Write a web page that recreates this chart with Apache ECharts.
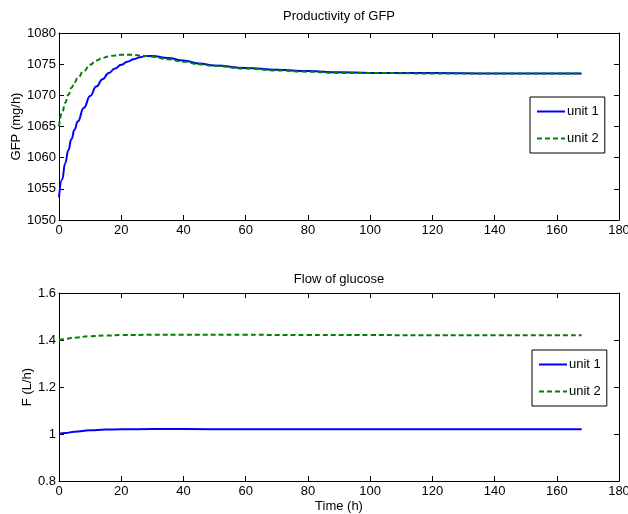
<!DOCTYPE html>
<html>
<head>
<meta charset="utf-8">
<script src="https://cdn.jsdelivr.net/npm/echarts@6/dist/echarts.min.js"></script>
<style>
  html, body { margin: 0; padding: 0; background: #fff; }
  #main { width: 628px; height: 514px; }
</style>
</head>
<body>
<div id="main"></div>
<script>
// time points (h) for the GFP plot
var timeGfp = [0, 1, 2, 3, 4, 5, 6, 8, 10, 12, 14, 16, 18, 20, 22, 24, 26, 28, 30, 35, 40, 45, 50, 60, 70, 80, 90, 100, 120, 140, 168];
var gfpUnit1 = [1053.6, 1056.5, 1059.1, 1061.2, 1063.0, 1064.5, 1065.8, 1068.0, 1069.9, 1071.4, 1072.6, 1073.6, 1074.3, 1074.9, 1075.4, 1075.8, 1076.1, 1076.3, 1076.3, 1076.0, 1075.6, 1075.1, 1074.8, 1074.4, 1074.1, 1073.9, 1073.7, 1073.6, 1073.6, 1073.5, 1073.5];
var gfpUnit2 = [1065.0, 1067.2, 1068.8, 1070.1, 1071.2, 1072.1, 1072.8, 1073.9, 1074.9, 1075.6, 1076.0, 1076.25, 1076.4, 1076.5, 1076.5, 1076.5, 1076.4, 1076.3, 1076.2, 1075.8, 1075.4, 1075.0, 1074.7, 1074.3, 1074.0, 1073.8, 1073.6, 1073.6, 1073.5, 1073.5, 1073.5];

// time points (h) for the glucose flow plot
var timeFlow = [0, 2, 5, 10, 15, 20, 30, 40, 60, 80, 100, 120, 140, 168];
var flowUnit1 = [1.000, 1.004, 1.010, 1.016, 1.019, 1.020, 1.021, 1.021, 1.020, 1.020, 1.020, 1.020, 1.020, 1.020];
var flowUnit2 = [1.400, 1.405, 1.410, 1.416, 1.419, 1.421, 1.422, 1.422, 1.422, 1.421, 1.421, 1.420, 1.420, 1.420];

var seriesNames = ['unit 1', 'unit 2'];

function pairs(xs, ys) {
    return xs.map(function (x, i) { return [x, ys[i]]; });
}

var font = 'Liberation Sans, Arial, Helvetica, sans-serif';
var blue = '#0000ff';
var green = '#008000';

function plain(v) {
    return String(Math.round(v * 1000) / 1000);
}

function xAx(grid, pos, showLabel, name) {
    return {
        type: 'value', gridIndex: grid, position: pos,
        min: 0, max: 180, interval: 20,
        name: name || '', nameLocation: 'middle', nameGap: 19, nameMoveOverlap: false,
        nameTextStyle: {color: '#000', fontSize: 13, fontFamily: font},
        axisLine: {show: true, onZero: false, lineStyle: {color: '#000', width: 1}},
        axisTick: {show: true, inside: true, length: 5, lineStyle: {color: '#000'}},
        axisLabel: {show: showLabel, color: '#000', fontSize: 13, fontFamily: font, margin: 4, formatter: plain},
        splitLine: {show: false}
    };
}

function yAx(grid, pos, showLabel, min, max, interval, name, gap) {
    return {
        type: 'value', gridIndex: grid, position: pos,
        min: min, max: max, interval: interval,
        name: name || '', nameLocation: 'middle', nameGap: gap || 30, nameMoveOverlap: false,
        nameTextStyle: {color: '#000', fontSize: 13, fontFamily: font},
        axisLine: {show: true, onZero: false, lineStyle: {color: '#000', width: 1}},
        axisTick: {show: true, inside: true, length: 5, lineStyle: {color: '#000'}},
        axisLabel: {show: showLabel, color: '#000', fontSize: 13, fontFamily: font, margin: 3, formatter: plain},
        splitLine: {show: false}
    };
}

function line(name, xAxisIndex, yAxisIndex, data, color, dashed) {
    return {
        name: name, type: 'line',
        xAxisIndex: xAxisIndex, yAxisIndex: yAxisIndex,
        data: data, symbol: 'none',
        smooth: true, smoothMonotone: 'x',
        lineStyle: {color: color, width: 2, type: dashed ? [5, 3] : 'solid'},
        itemStyle: {color: color},
        animation: false
    };
}

function legendBox(top, left) {
    return {
        data: seriesNames,
        orient: 'vertical',
        left: left, top: top,
        itemWidth: 28, itemHeight: 14, itemGap: 14,
        padding: [8, 6, 8, 6],
        borderColor: '#000', borderWidth: 1,
        backgroundColor: '#fff',
        itemStyle: {opacity: 0},
        textStyle: {color: '#000', fontSize: 13, fontFamily: font, padding: [0, 0, 0, -3]},
        selectedMode: false
    };
}

var chart = echarts.init(document.getElementById('main'));
chart.setOption({
    backgroundColor: '#fff',
    animation: false,
    title: [
        {text: 'Productivity of GFP', left: 339, top: 10, textAlign: 'center', padding: 0,
            textStyle: {color: '#000', fontSize: 13, fontWeight: 'normal', fontFamily: font}},
        {text: 'Flow of glucose', left: 339, top: 273, textAlign: 'center', padding: 0,
            textStyle: {color: '#000', fontSize: 13, fontWeight: 'normal', fontFamily: font}}
    ],
    legend: [legendBox(97, 530), legendBox(350, 532)],
    grid: [
        {left: 59, top: 33, width: 560, height: 187, containLabel: false, outerBoundsMode: 'none'},
        {left: 59, top: 293, width: 560, height: 188, containLabel: false, outerBoundsMode: 'none'}
    ],
    xAxis: [
        xAx(0, 'bottom', true),
        xAx(0, 'top', false),
        xAx(1, 'bottom', true, 'Time (h)'),
        xAx(1, 'top', false)
    ],
    yAxis: [
        yAx(0, 'left', true, 1050, 1080, 5, 'GFP (mg/h)', 36),
        yAx(0, 'right', false, 1050, 1080, 5),
        yAx(1, 'left', true, 0.8, 1.6, 0.2, 'F (L/h)', 25),
        yAx(1, 'right', false, 0.8, 1.6, 0.2)
    ],
    series: [
        line(seriesNames[0], 0, 0, pairs(timeGfp, gfpUnit1), blue, false),
        line(seriesNames[1], 0, 0, pairs(timeGfp, gfpUnit2), green, true),
        line(seriesNames[0], 2, 2, pairs(timeFlow, flowUnit1), blue, false),
        line(seriesNames[1], 2, 2, pairs(timeFlow, flowUnit2), green, true)
    ]
});
</script>
</body>
</html>
